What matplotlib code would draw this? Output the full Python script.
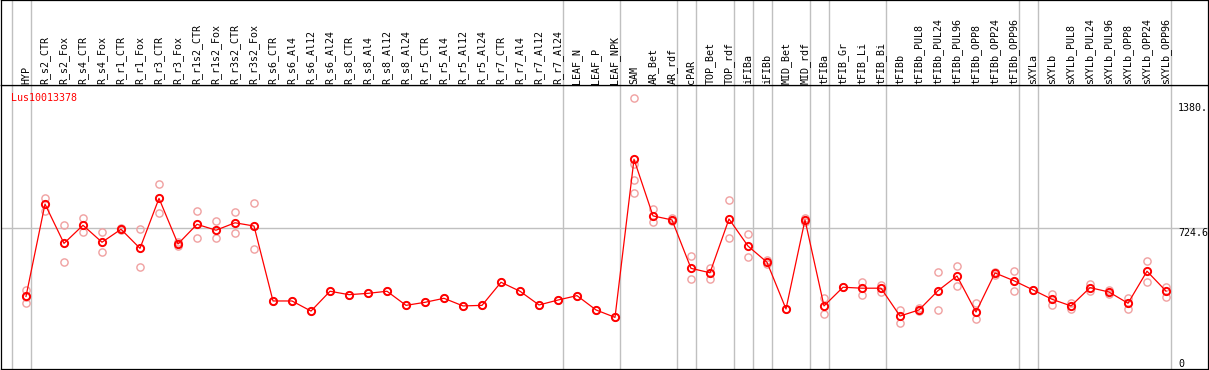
import matplotlib
matplotlib.use("Agg")
import matplotlib.pyplot as plt

categories = ["HYP", "R_s2_CTR", "R_s2_Fox", "R_s4_CTR", "R_s4_Fox", "R_r1_CTR", "R_r1_Fox",
              "R_r3_CTR", "R_r3_Fox", "R_r1s2_CTR", "R_r1s2_Fox", "R_r3s2_CTR", "R_r3s2_Fox",
              "R_s6_CTR", "R_s6_Al4", "R_s6_Al12", "R_s6_Al24", "R_s8_CTR", "R_s8_Al4",
              "R_s8_Al12", "R_s8_Al24", "R_r5_CTR", "R_r5_Al4", "R_r5_Al12", "R_r5_Al24",
              "R_r7_CTR", "R_r7_Al4", "R_r7_Al12", "R_r7_Al24", "LEAF_N", "LEAF_P", "LEAF_NPK",
              "SAM", "AR_Bet", "AR_rdf", "cPAR", "TOP_Bet", "TOP_rdf", "iFIBa", "iFIBb",
              "MID_Bet", "MID_rdf", "tFIBa", "tFIB_Gr", "tFIB_Li", "tFIB_Bi", "tFIBb",
              "tFIBb_PUL8", "tFIBb_PUL24", "tFIBb_PUL96", "tFIBb_OPP8", "tFIBb_OPP24",
              "tFIBb_OPP96", "sXYLa", "sXYLb", "sXYLb_PUL8", "sXYLb_PUL24", "sXYLb_PUL96",
              "sXYLb_OPP8", "sXYLb_OPP24", "sXYLb_OPP96"]

means = [366, 850, 644, 739, 650, 718, 618, 880, 641, 744, 713, 752, 735,
         342, 342, 289, 393, 375, 382, 393, 319, 335, 356, 316, 319, 440, 393, 321, 347,
         370, 295, 256,
         1085, 788, 767, 513, 490, 772, 630, 545, 300, 767, 316, 414, 409, 409, 263,
         295, 396, 473, 284, 489, 448, 400, 351, 316, 412, 389, 330, 498, 394]

replicates = [[400, 364, 331], [884, 812], [740, 545], [776, 705], [702, 600], [712, 724],
              [718, 519], [954, 802], [650, 632], [814, 674], [761, 671], [808, 697],
              [856, 615],
              [342], [342], [289], [393], [375], [382], [393], [319], [335], [356], [316],
              [319], [440], [393], [321], [347], [370], [295], [256],
              [1405, 1060, 976, 907], [824, 755], [779, 762], [578, 456], [517, 456],
              [871, 671], [692, 571], [557, 534], [300], [775, 758], [356, 274], [414],
              [442, 372], [427, 388], [296, 228], [307, 291], [496, 295], [525, 421],
              [330, 246], [494, 477], [498, 394], [400], [380, 321], [330, 298], [431, 396],
              [398, 377], [359, 300], [550, 440], [417, 364]]

gene_id = "Lus10013378"
ytick_values = [1380, 724.6, 0]
ytick_labels = ["1380.", "724.6", "0"]
group_after = [-1, 0, 28, 31, 34, 35, 37, 38, 39, 41, 42, 45, 52, 53, 60]

W, H = 1209, 370
fig = plt.figure(figsize=(W / 100, H / 100), dpi=100)
mono = "DejaVu Sans Mono"
fs = 7.2

x_lo = (1 - 26) / 19
x_hi = (1208 - 26) / 19
y_lo = (366.2 - 369) * 5.2433
y_hi = (366.2 - 85) * 5.2433

# main plot axes
ax = fig.add_axes([1 / W, 1 / H, 1207 / W, 284 / H])
ax.set_xlim(x_lo, x_hi)
ax.set_ylim(y_lo, y_hi)
ax.set_xticks([])
ax.set_yticks([])
for s in ax.spines.values():
    s.set_linewidth(0.9)
    s.set_color("black")

for g in group_after:
    ax.axvline(g + 0.24, color="#c0c0c0", lw=1.0, zorder=1)
ax.axhline(ytick_values[1], color="#c0c0c0", lw=1.0, zorder=1)

xs = list(range(len(categories)))
for i, reps in enumerate(replicates):
    ax.plot([i] * len(reps), reps, linestyle="none", marker="o", ms=5.2, mfc="none",
            mec="#f0a0a0", mew=1.0, zorder=2)
ax.plot(xs, means, color="red", lw=0.9, marker="o", ms=5.2, mfc="none", mec="red",
        mew=1.4, zorder=3)

ax.text(10 / 19 + x_lo, 1475 - (97.7 - 85) * 5.2433, gene_id, color="red", fontsize=fs,
        family=mono, ha="left", va="center", zorder=4)

lab_x = (1178 - 26) / 19
ax.text(lab_x, ytick_values[0], ytick_labels[0], fontsize=fs, family=mono, ha="left", va="top")
ax.text(lab_x, ytick_values[1], ytick_labels[1], fontsize=fs, family=mono, ha="left", va="top")
ax.text(lab_x, (366.2 - 359) * 5.2433, ytick_labels[2], fontsize=fs, family=mono, ha="left", va="top")

# header axes with rotated labels
hx = fig.add_axes([1 / W, 285 / H, 1207 / W, 84.6 / H])
hx.set_xlim(x_lo, x_hi)
hx.set_ylim(85, 0)
hx.set_xticks([])
hx.set_yticks([])
for s in hx.spines.values():
    s.set_linewidth(0.9)
    s.set_color("black")
for g in group_after:
    hx.axvline(g + 0.24, color="#c0c0c0", lw=1.0, zorder=1)
for i, c in enumerate(categories):
    hx.text(i, 83.5, c, rotation=90, fontsize=fs, family=mono, ha="center", va="bottom", zorder=3)

fig.savefig("out.png", dpi=100)
